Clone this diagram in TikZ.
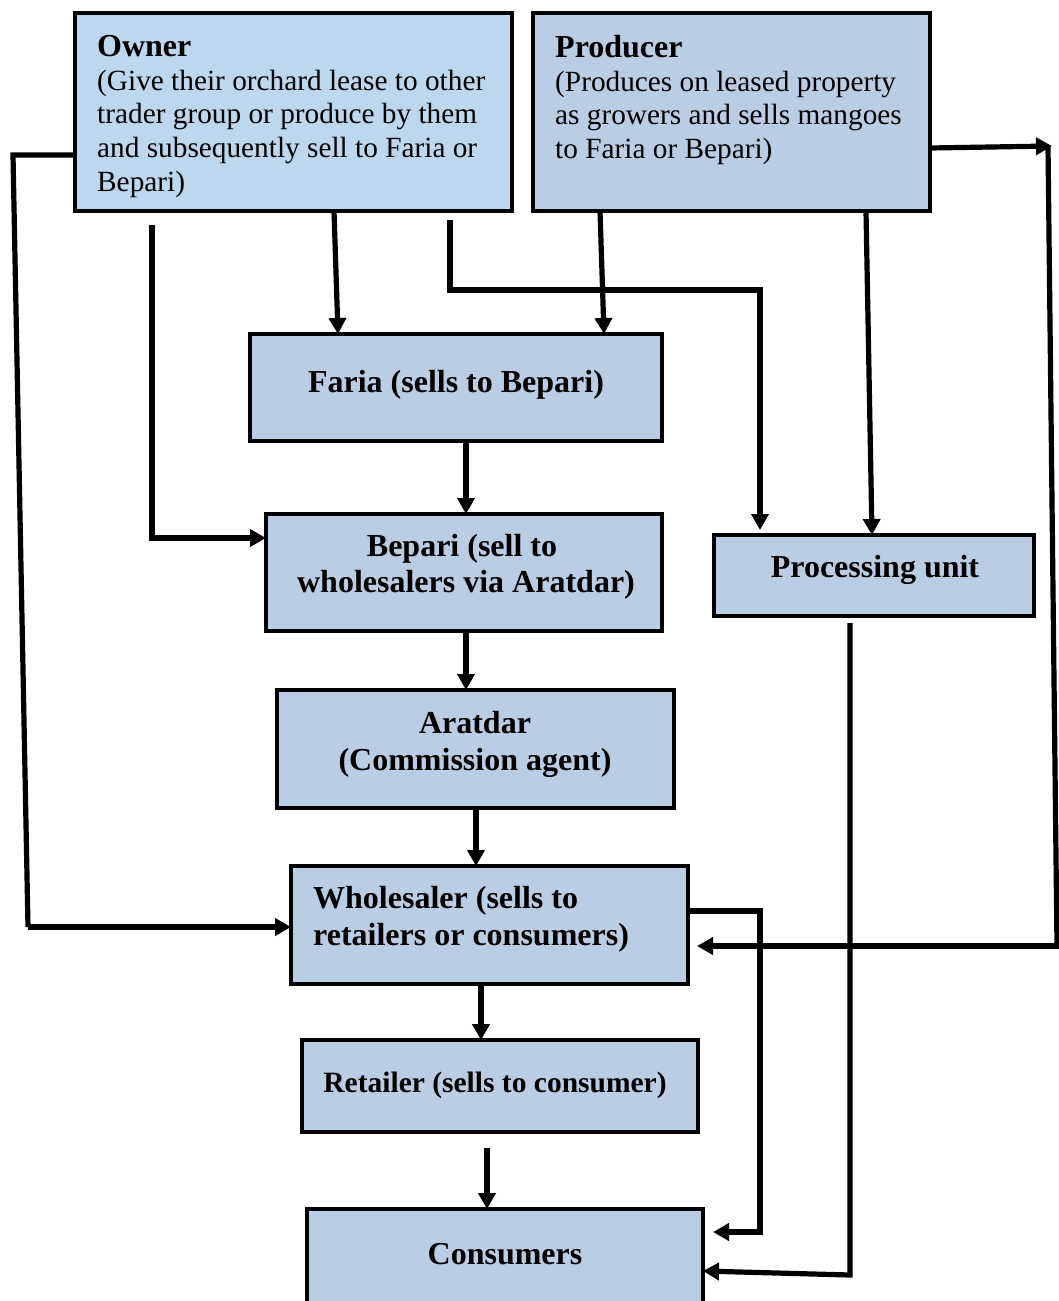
\documentclass[tikz,border=0pt]{standalone}
\usepackage{fontspec}
\setmainfont{Liberation Serif}
\usetikzlibrary{arrows.meta}
\definecolor{ownfill}{HTML}{BDD7EE}
\definecolor{boxfill}{HTML}{B9CDE5}
\begin{document}
\begin{tikzpicture}[x=1pt,y=-1pt,
  box/.style={draw, line width=3.5pt, fill=boxfill, inner sep=0pt, outer sep=0pt, anchor=north west},
  ln/.style={line width=5.2pt, line join=miter},
  arr/.style={ln, -{Triangle[length=16pt,width=17pt]}},
  rtxt/.style={inner sep=0pt, align=left, font=\fontsize{29.3}{33.7}\selectfont},
  ttl/.style={font=\fontsize{32}{33.7}\selectfont\bfseries},
  btxt/.style={inner sep=0pt, font=\fontsize{32}{37}\selectfont\bfseries}]
\path[use as bounding box] (0,0) rectangle (1059,1301);

% boxes
\node[box, fill=ownfill, minimum width=437pt, minimum height=198pt] (owner) at (75,13) {};
\node[box, minimum width=397pt, minimum height=198pt] (producer) at (533,13) {};
\node[box, minimum width=412pt, minimum height=107pt] (faria) at (250,334) {};
\node[box, minimum width=396pt, minimum height=117pt] (bepari) at (266,514) {};
\node[box, minimum width=320pt, minimum height=81pt] (proc) at (714,535) {};
\node[box, minimum width=397pt, minimum height=118pt] (aratdar) at (277,690) {};
\node[box, minimum width=397pt, minimum height=118pt] (whole) at (291,866) {};
\node[box, minimum width=396pt, minimum height=92pt] (retail) at (302,1040) {};
\node[box, minimum width=396pt, minimum height=110pt] (cons) at (307,1209) {};

% texts
\node[rtxt, anchor=north west] (ownerT) at (97,35) {{\fontsize{32}{33.7}\selectfont\bfseries Owner}\\(Give their orchard lease to other\\trader group or produce by them\\and subsequently sell to Faria or\\Bepari)};
\node[rtxt, anchor=north west] (producerT) at (555,35) {{\fontsize{32}{33.7}\selectfont\bfseries Producer}\\(Produces on leased property\\as growers and sells mangoes\\to Faria or Bepari)};
\node[btxt, anchor=base] (fariaT) at (456,392) {Faria (sells to Bepari)};
\node[btxt, anchor=base] (bepariT1) at (462,556) {Bepari (sell to};
\node[btxt, anchor=base] (bepariT2) at (466,592) {wholesalers via Aratdar)};
\node[btxt, anchor=base] (procT) at (875,577) {Processing unit};
\node[btxt, anchor=base] (aratdarT1) at (475,733) {Aratdar};
\node[btxt, anchor=base] (aratdarT2) at (475,770) {(Commission agent)};
\node[btxt, anchor=base west] (wholeT1) at (313,908) {Wholesaler (sells to};
\node[btxt, anchor=base west] (wholeT2) at (313,945) {retailers or consumers)};
\node[btxt, anchor=base, font=\fontsize{29.5}{35}\selectfont\bfseries] (retailT) at (495,1092) {Retailer (sells to consumer)};
\node[btxt, anchor=base] (consT) at (505,1264) {Consumers};

% connectors
\draw[ln] (owner.west |- 0,155) -- (13,155) -- (28,927);
\draw[arr] (28,927) -- (whole.west |- 0,927);
\draw[arr] (152,225) -- (152,538) -- (bepari.west |- 0,538);
\draw[arr] (owner.south -| 334,0) -- (faria.north -| 338,0);
\draw[arr] (450,220) -- (450,290) -- (760,290) -- (760,530);
\draw[arr] (producer.south -| 600,0) -- (faria.north -| 604,0);
\draw[arr] (producer.south -| 866,0) -- (proc.north -| 872,0);
\draw[arr] (producer.east |- 0,148) -- (1052,146);
\draw[ln] (1048,146) -- (1057,946) -- (1062,946);
\draw[arr, shorten >=9pt] (1062,946) -- (whole.east |- 0,946);
\draw[arr] (faria.south -| 466,0) -- (bepari.north -| 466,0);
\draw[arr] (bepari.south -| 466,0) -- (aratdar.north -| 466,0);
\draw[arr] (aratdar.south -| 476,0) -- (whole.north -| 476,0);
\draw[arr] (whole.south -| 481,0) -- (retail.north -| 481,0);
\draw[arr] (487,1148) -- (cons.north -| 487,0);
\draw[arr] (whole.east |- 0,911) -- (760,911) -- (760,1232) -- (713,1232);
\draw[arr] (850,623) -- (850,1275) -- (cons.east |- 0,1271);
\end{tikzpicture}
\end{document}
